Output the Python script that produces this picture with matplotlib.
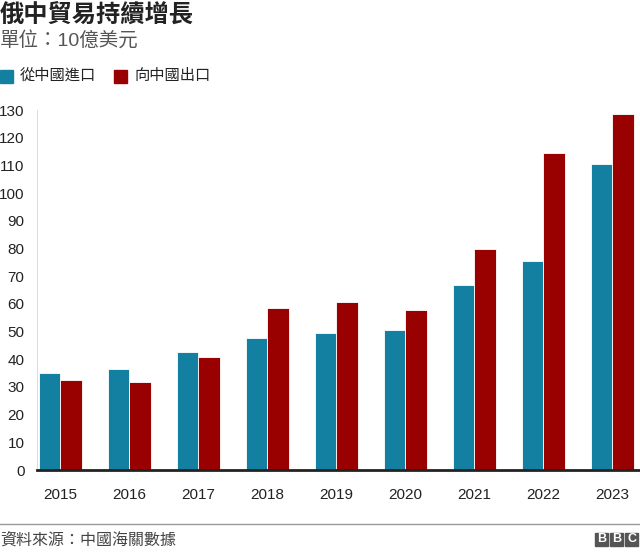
import matplotlib.pyplot as plt
import numpy as np
from matplotlib.patches import Rectangle

plt.rcParams['font.family'] = ['Liberation Sans', 'Noto Sans CJK TC', 'DejaVu Sans']

# Datos (mil millones de USD)
years = ['2015', '2016', '2017', '2018', '2019', '2020', '2021', '2022', '2023']
imports_cn = [35, 36.6, 42.6, 47.7, 49.5, 50.6, 66.8, 75.5, 110.5]
exports_cn = [32.5, 31.8, 40.8, 58.5, 60.7, 57.8, 79.8, 114.5, 128.6]
yticks = list(range(0, 131, 10))

blue = '#1380A1'
red = '#990000'

fig = plt.figure(figsize=(6.4, 5.52), dpi=100)
ax = fig.add_axes([37 / 640, 82 / 552, 1 - 37 / 640, 360 / 552])

x = np.arange(len(years))
w = 0.31
ax.bar(x - w / 2, imports_cn, w, color=blue, edgecolor='white', linewidth=0.6)
ax.bar(x + w / 2, exports_cn, w, color=red, edgecolor='white', linewidth=0.6)

ax.set_xlim(-0.34, 8.4)
ax.set_ylim(0, 130)
ax.set_yticks(yticks)
ax.set_xticks(x)
ax.set_xticklabels(years)
ax.tick_params(axis='both', length=0, labelsize=11, colors='#222222')
ax.tick_params(axis='y', pad=9)
ax.tick_params(axis='x', pad=13)

for s in ['top', 'right']:
    ax.spines[s].set_visible(False)
ax.spines['left'].set_color('#dddddd')
ax.spines['left'].set_linewidth(0.8)
ax.spines['bottom'].set_color('#222222')
ax.spines['bottom'].set_linewidth(2)

# Título y subtítulo
fig.text(0, 1 - 15 / 552, '俄中貿易持續增長', fontsize=17.5, fontweight='bold',
         va='center', ha='left', color='#222222')
fig.text(0, 1 - 40 / 552, '單位：10億美元', fontsize=14, va='center', ha='left',
         color='#555555')

# Leyenda
fig.patches.append(Rectangle((0, 1 - 83 / 552), 13 / 640, 13 / 552,
                             transform=fig.transFigure, color=blue))
fig.text(20 / 640, 1 - 76 / 552, '從中國進口', fontsize=11, va='center', color='#222222')
fig.patches.append(Rectangle((114 / 640, 1 - 83 / 552), 13 / 640, 13 / 552,
                             transform=fig.transFigure, color=red))
fig.text(134 / 640, 1 - 76 / 552, '向中國出口', fontsize=11, va='center', color='#222222')

# Pie
fig.add_artist(plt.Line2D([0, 1], [1 - 523.5 / 552] * 2, transform=fig.transFigure,
                          color='#999999', linewidth=1))
fig.text(0, 1 - 540 / 552, '資料來源：中國海關數據', fontsize=11.5, va='center',
         color='#444444')
for i, letter in enumerate('BBC'):
    x0 = 595 / 640 + i * 15 / 640
    fig.patches.append(Rectangle((x0, 1 - 546 / 552), 13 / 640, 13 / 552,
                                 transform=fig.transFigure, color='#555555'))
    fig.text(x0 + 6.5 / 640, 1 - 539.5 / 552, letter, fontsize=9, fontweight='bold',
             color='white', ha='center', va='center')

plt.savefig('out.png', dpi=100)
plt.close()
